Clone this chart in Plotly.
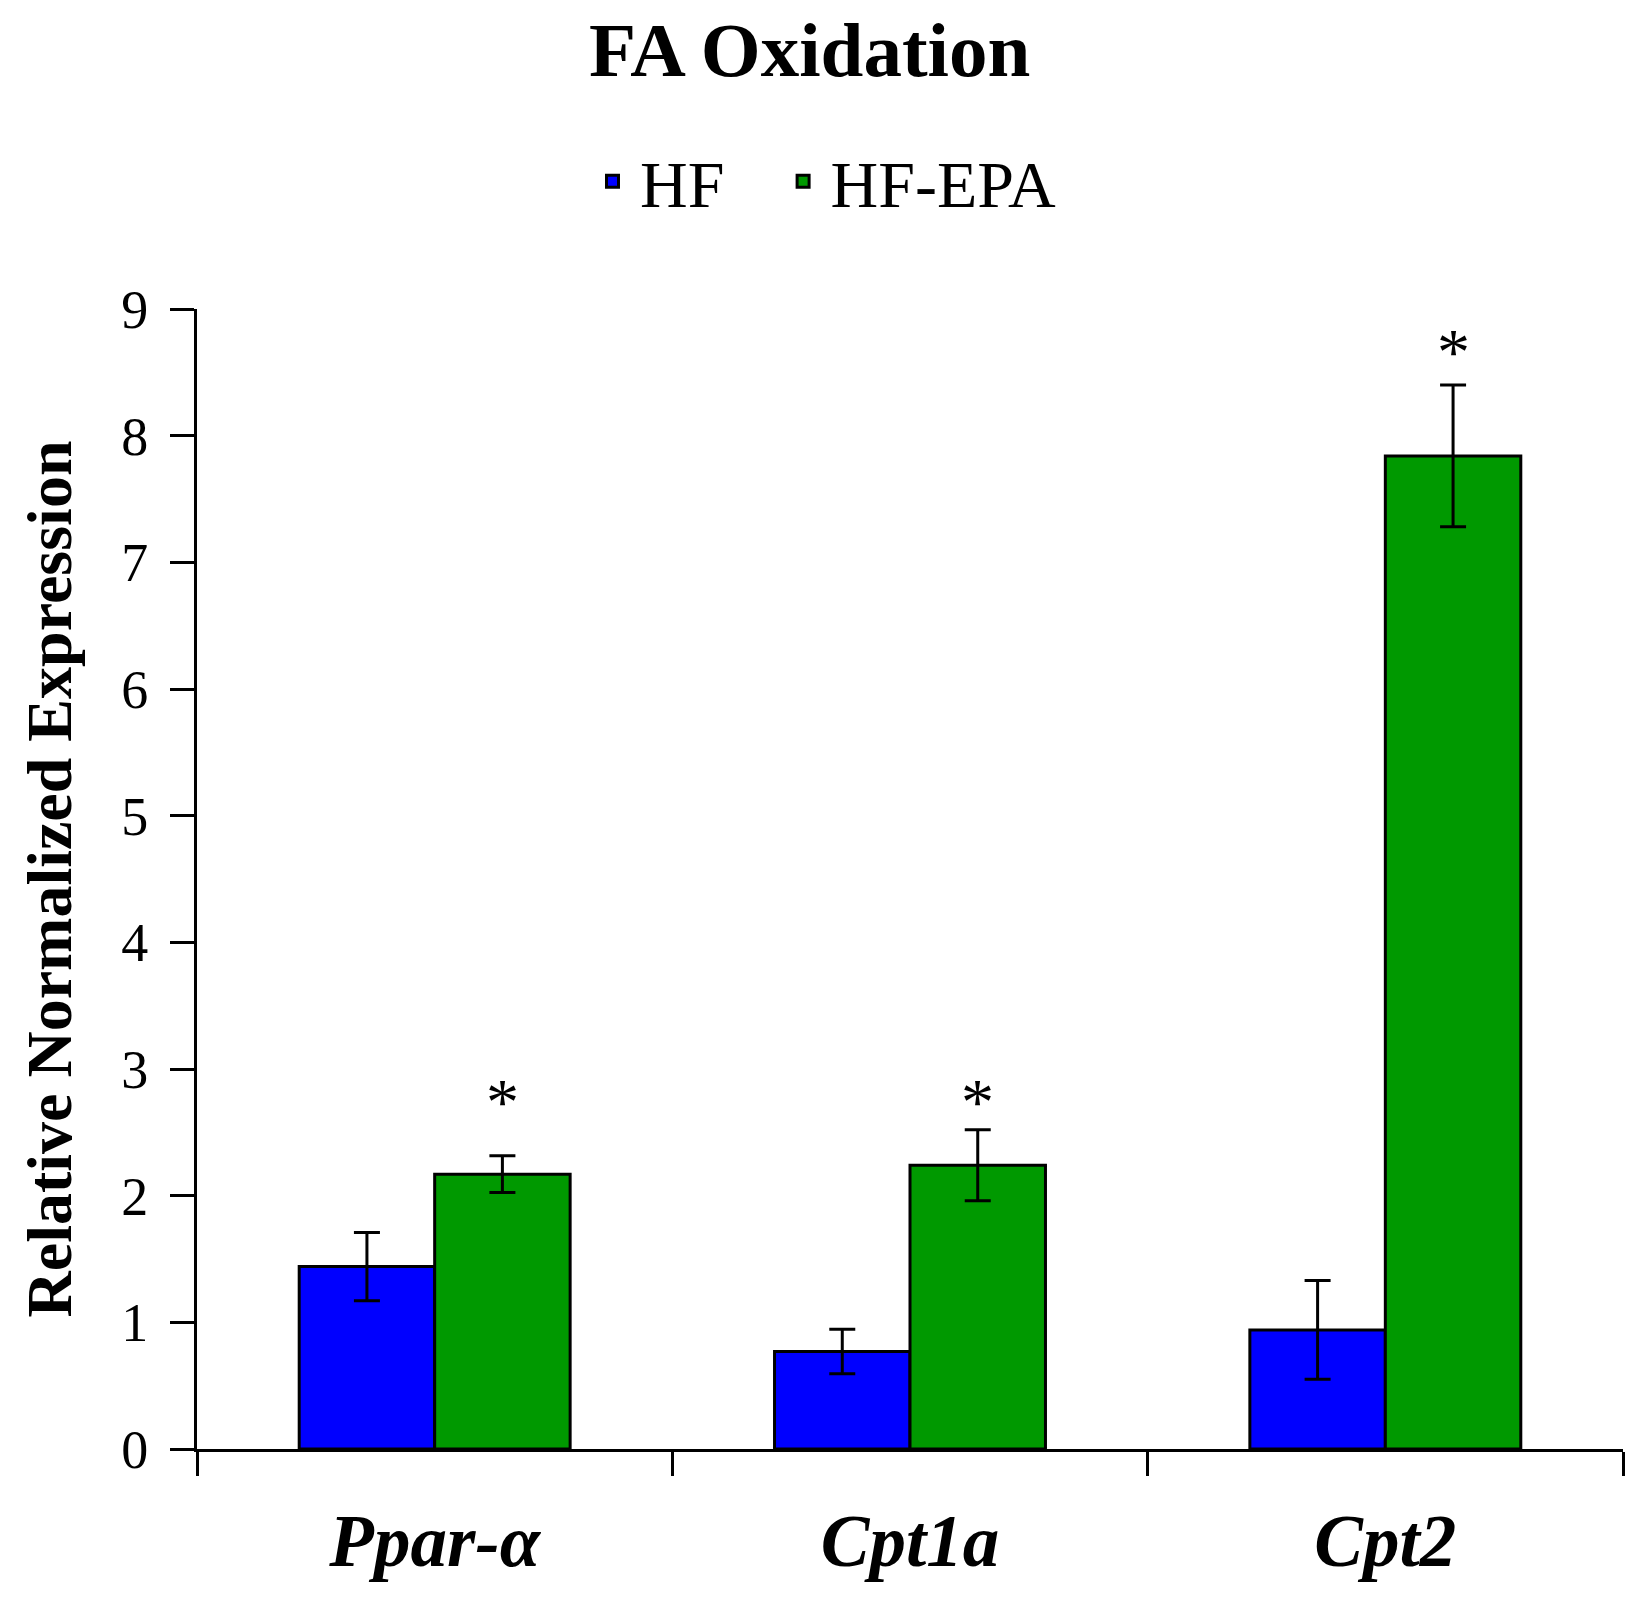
import plotly.graph_objects as go

categories = ["Ppar-α", "Cpt1a", "Cpt2"]
series_names = ["HF", "HF-EPA"]
hf_values = [1.44, 0.77, 0.94]
hf_errors = [0.27, 0.175, 0.39]
epa_values = [2.17, 2.24, 7.84]
epa_errors = [0.145, 0.28, 0.56]
significance = ["*", "*", "*"]
star_y = [2.82, 2.82, 8.74]
y_ticks = [0, 1, 2, 3, 4, 5, 6, 7, 8, 9]

FONT = "Liberation Serif"
W, H = 1646, 1613
ML, MR, MT, MB = 189, 31, 301, 172
PAD = "\u00a0\u00a0\u2009"

fig = go.Figure()
fig.add_trace(go.Bar(
    name=series_names[0] + PAD, x=categories, y=hf_values,
    marker=dict(color="#0000FF", line=dict(color="black", width=3)),
    error_y=dict(type="data", array=hf_errors, color="black", thickness=3, width=13),
))
fig.add_trace(go.Bar(
    name=series_names[1], x=categories, y=epa_values,
    marker=dict(color="#009900", line=dict(color="black", width=3)),
    error_y=dict(type="data", array=epa_errors, color="black", thickness=3, width=13),
))

plot_w = W - ML - MR
bargap = 0.43
bar_px = plot_w / len(categories) * (1 - bargap) / 2

for c, s, y in zip(categories, significance, star_y):
    fig.add_annotation(x=c, y=y, text=s, showarrow=False, xshift=bar_px / 2,
                       yshift=-10, yanchor="middle",
                       font=dict(family=FONT, size=66, color="black"))

fig.update_layout(
    width=W, height=H,
    margin=dict(l=ML, r=MR, t=MT, b=MB, autoexpand=False),
    paper_bgcolor="white", plot_bgcolor="white",
    barmode="group", bargap=bargap, bargroupgap=0,
    title=dict(text="<b>FA Oxidation</b>", x=0.487, xref="container", xanchor="center",
               y=1 - 41 / H, yref="container", yanchor="middle",
               font=dict(family=FONT, size=77, color="black")),
    legend=dict(orientation="h", x=0.439, xanchor="center", y=1.112, yanchor="middle",
                font=dict(family=FONT, size=66, color="black"), itemwidth=45,
                bgcolor="rgba(0,0,0,0)", itemclick=False, tracegroupgap=0),
    font=dict(family=FONT, color="black"),
)
fig.update_xaxes(
    type="category", showline=True, linecolor="black", linewidth=3,
    ticks="outside", tickson="boundaries", ticklen=24, tickwidth=2.5, tickcolor="black",
    tickfont=dict(family=FONT, size=73, color="black", weight="bold", style="italic"),
    ticklabelstandoff=26, showgrid=False, zeroline=False,
)
fig.update_yaxes(
    range=[0, 9], tickmode="array", tickvals=y_ticks,
    showline=True, linecolor="black", linewidth=3,
    ticks="outside", ticklen=24, tickwidth=3, tickcolor="black",
    tickfont=dict(family=FONT, size=54, color="black"),
    ticklabelstandoff=11, showgrid=False, zeroline=False,
    title=dict(text="<b>Relative Normalized Expression</b>", standoff=29,
               font=dict(family=FONT, size=64, color="black")),
)

fig.write_html("out.html")
